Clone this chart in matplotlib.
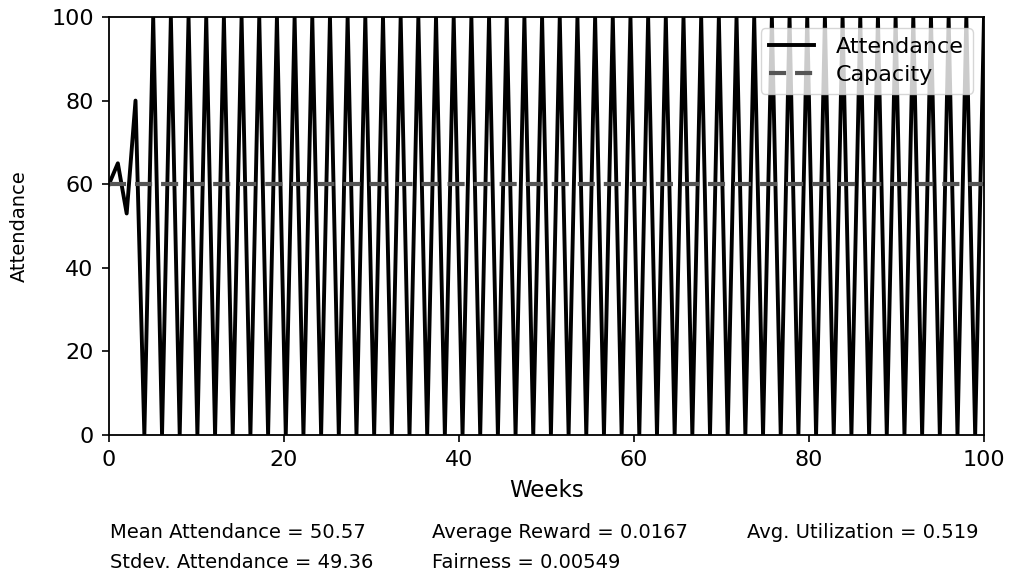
import numpy as np
import matplotlib
matplotlib.use("Agg")
import matplotlib.pyplot as plt

# Weekly bar attendance over the simulation
attendance = [60, 65, 53, 80] + [0, 100] * 48
capacity = 60
weeks = np.linspace(0, 100, len(attendance))

stats_row1 = ["Mean Attendance = 50.57", "Average Reward = 0.0167", "Avg. Utilization = 0.519"]
stats_row2 = ["Stdev. Attendance = 49.36", "Fairness = 0.00549"]

fig = plt.figure(figsize=(10.09, 5.77), dpi=100)
ax = fig.add_axes([109 / 1009, 1 - 435 / 577, 875 / 1009, 418 / 577])

ax.plot(weeks, attendance, color="black", linewidth=2.8, label="Attendance")
ax.axhline(capacity, color="#555555", linestyle=(0, (4.1, 2.15)), linewidth=3,
           label="Capacity")

ax.set_xlim(0, 100)
ax.set_ylim(0, 100)
ax.set_xlabel("Weeks", fontsize=16.5, labelpad=6)
ax.set_ylabel("Attendance", fontsize=14, labelpad=16)
ax.tick_params(labelsize=16, length=5, width=1.2, pad=6)
for sp in ax.spines.values():
    sp.set_linewidth(1.3)
ax.legend(loc="upper right", fontsize=16, framealpha=0.8, handletextpad=1.0,
          labelspacing=0.35)

xs = [110 / 1009, 432 / 1009, 747 / 1009]
for x, s in zip(xs, stats_row1):
    fig.text(x, 1 - 533 / 577, s, fontsize=14, va="center", ha="left")
for x, s in zip(xs, stats_row2):
    fig.text(x, 1 - 563 / 577, s, fontsize=14, va="center", ha="left")

fig.savefig("out.png", dpi=100)
